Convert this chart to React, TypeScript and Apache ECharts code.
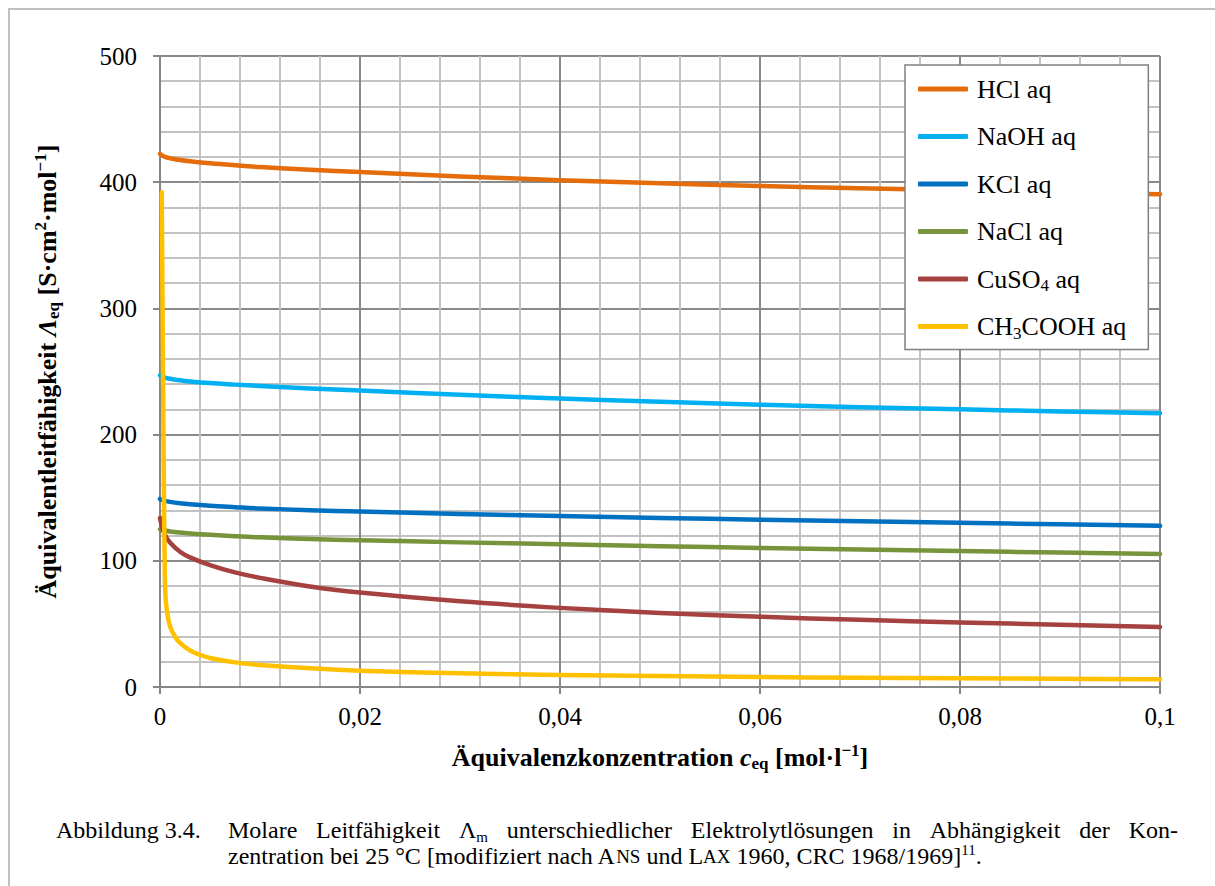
import React, { useEffect, useRef } from 'react';
import * as echarts from 'echarts';

// ---------- data ----------
const concentration = [0, 0.0002, 0.0005, 0.001, 0.002, 0.003, 0.005, 0.0075, 0.01, 0.015, 0.02, 0.03, 0.04, 0.05, 0.06, 0.07, 0.08, 0.09, 0.1];
const hcl = [422.5, 421.2, 420, 419, 417.6, 416.6, 415, 413.4, 412, 409.8, 408, 404.6, 401.6, 399.1, 397, 395.2, 393.6, 392, 390.5];
const naoh = [247, 246.2, 245.2, 244.2, 243, 242.1, 240.8, 239.6, 238.5, 236.6, 234.9, 231.6, 228.6, 226, 223.7, 221.7, 220, 218.4, 217];
const kcl = [149, 148.3, 147.5, 146.7, 145.6, 144.8, 143.6, 142.5, 141.5, 140.1, 139, 137.1, 135.5, 134, 132.6, 131.3, 130.1, 128.9, 127.7];
const nacl = [125, 124.5, 124, 123.3, 122.4, 121.7, 120.6, 119.5, 118.6, 117.3, 116.3, 114.6, 113.1, 111.6, 110.2, 108.9, 107.7, 106.5, 105.4];
const cuso4 = [134, 127, 120.5, 114.5, 107.2, 102.7, 96.6, 90.8, 86.5, 79.7, 74.9, 67.9, 62.7, 58.7, 55.7, 53.2, 51.2, 49.3, 47.6];
const aceticConcentration = [0.00018, 0.0003, 0.0004, 0.00048, 0.00055, 0.0007, 0.001, 0.0015, 0.002, 0.003, 0.004, 0.005, 0.0075, 0.01, 0.015, 0.02, 0.03, 0.04, 0.05, 0.06, 0.07, 0.08, 0.09, 0.1];
const acetic = [392, 250, 150, 92, 72, 60, 48, 40, 35, 29, 25.5, 23, 19.5, 17.5, 14.8, 12.9, 10.9, 9.6, 8.7, 7.9, 7.3, 6.9, 6.5, 6.1];

const seriesNames = ['HCl aq', 'NaOH aq', 'KCl aq', 'NaCl aq', 'CuSO4 aq', 'CH3COOH aq'];
const seriesColors = ['#E46C0A', '#00B0F0', '#0070C0', '#77933C', '#A5413E', '#FFC000'];

const xTickLabels = ['0', '0,02', '0,04', '0,06', '0,08', '0,1'];
const yTickLabels = ['0', '100', '200', '300', '400', '500'];

const captionLabel = 'Abbildung 3.4.';
const captionLine1 = ['Molare', 'Leitfähigkeit', '{n|Λ}{s|m}', 'unterschiedlicher', 'Elektrolytlösungen', 'in', 'Abhängigkeit', 'der', 'Kon-'];
const captionLine2 = '{n|zentration bei 25 °C [modifiziert nach A}{sc|NS}{n| und L}{sc|AX}{n| 1960, CRC 1968/1969]}{sup|11}{n|.}';

// ---------- style ----------
const FONT = '"Liberation Serif", "Times New Roman", serif';
const CAP_SIZE = 24;
const axisGray = '#868686';
const majorGray = '#898989';
const minorGray = '#c2c2c2';

const captionRich: any = {
  n: { fontFamily: FONT, fontSize: CAP_SIZE, lineHeight: 28, color: '#000' },
  s: { fontFamily: FONT, fontSize: 15, lineHeight: 16, verticalAlign: 'bottom', color: '#000' },
  sc: { fontFamily: FONT, fontSize: 19, lineHeight: 28, verticalAlign: 'middle', color: '#000' },
  sup: { fontFamily: FONT, fontSize: 15, lineHeight: 18, verticalAlign: 'top', color: '#000' },
};

const titleRich: any = {
  b: { fontFamily: FONT, fontWeight: 'bold', fontSize: 26, lineHeight: 30, color: '#000' },
  bi: { fontFamily: FONT, fontWeight: 'bold', fontStyle: 'italic', fontSize: 26, lineHeight: 30, color: '#000' },
  sub: { fontFamily: FONT, fontWeight: 'bold', fontSize: 17, lineHeight: 17, verticalAlign: 'bottom', color: '#000' },
  sup: { fontFamily: FONT, fontWeight: 'bold', fontSize: 17, lineHeight: 25, verticalAlign: 'top', color: '#000' },
};

function measureRich(text: string, ctx: CanvasRenderingContext2D): number {
  const re = /\{(\w+)\|([^}]*)\}/g;
  let m: RegExpExecArray | null;
  let w = 0;
  let found = false;
  while ((m = re.exec(text))) {
    found = true;
    const st = captionRich[m[1]] || captionRich.n;
    ctx.font = `${st.fontSize}px ${FONT}`;
    w += ctx.measureText(m[2]).width;
  }
  if (!found) {
    ctx.font = `${CAP_SIZE}px ${FONT}`;
    w = ctx.measureText(text).width;
  }
  return w;
}

function legendFormatter(name: string): string {
  const parts = name.split(/(\d+)/).filter((p) => p.length > 0);
  return parts.map((p) => (/^\d+$/.test(p) ? `{s|${p}}` : `{n|${p}}`)).join('');
}

export default function App() {
  const ref = useRef<HTMLDivElement>(null);

  useEffect(() => {
    if (!ref.current) return;
    const chart = echarts.init(ref.current, undefined, { renderer: 'svg' });

    const canvas = document.createElement('canvas');
    const ctx = canvas.getContext('2d') as CanvasRenderingContext2D;
    const X1 = 228;
    const X2 = 1178;
    const widths = captionLine1.map((w) => measureRich(w, ctx));
    const total = widths.reduce((a, b) => a + b, 0);
    const gap = (X2 - X1 - total) / (captionLine1.length - 1);
    const line1Y = 830;
    const line2Y = 856;
    const captionEls: any[] = [];
    const plainStyle = (text: string) => ({
      text, fontFamily: FONT, fontSize: CAP_SIZE, fill: '#000', verticalAlign: 'middle', align: 'left',
    });
    captionEls.push({ type: 'text', x: 56, y: line1Y, style: plainStyle(captionLabel) });
    let cx = X1;
    captionLine1.forEach((w, i) => {
      const isRich = w.startsWith('{');
      captionEls.push({
        type: 'text', x: cx, y: line1Y,
        style: isRich
          ? { text: w, rich: captionRich, fontFamily: FONT, fontSize: CAP_SIZE, fill: '#000', verticalAlign: 'middle', align: 'left' }
          : plainStyle(w),
      });
      cx += widths[i] + gap;
    });
    captionEls.push({
      type: 'text', x: X1, y: line2Y,
      style: { text: captionLine2, rich: captionRich, fontFamily: FONT, fontSize: CAP_SIZE, fill: '#000', verticalAlign: 'middle', align: 'left' },
    });

    const makeData = (xs: number[], ys: number[]) => xs.map((x, i) => [x, ys[i]]);
    const allData = [
      makeData(concentration, hcl),
      makeData(concentration, naoh),
      makeData(concentration, kcl),
      makeData(concentration, nacl),
      makeData(concentration, cuso4),
      makeData(aceticConcentration, acetic),
    ];

    chart.setOption({
      animation: false,
      backgroundColor: '#fff',
      textStyle: { fontFamily: FONT },
      grid: { left: 160, right: 55, top: 56, bottom: 199, containLabel: false },
      xAxis: {
        type: 'value', min: 0, max: 0.1, interval: 0.02,
        axisLine: { show: true, onZero: false, lineStyle: { color: axisGray, width: 2 } },
        axisTick: { show: true, length: 7, lineStyle: { color: axisGray, width: 2 } },
        axisLabel: {
          formatter: (v: number) => xTickLabels[Math.round(v / 0.02)],
          fontFamily: FONT, fontSize: 25, color: '#000', margin: 17,
        },
        splitLine: { show: true, lineStyle: { color: majorGray, width: 2 } },
        minorTick: { show: false, splitNumber: 5 },
        minorSplitLine: { show: true, lineStyle: { color: minorGray, width: 2 } },
        name: '{b|Äquivalenzkonzentration }{bi|c}{sub|eq}{b| [mol·l}{sup|−1}{b|]}',
        nameLocation: 'middle', nameGap: 55,
        nameTextStyle: { rich: titleRich },
      },
      yAxis: {
        type: 'value', min: 0, max: 500, interval: 100,
        axisLine: { show: true, lineStyle: { color: axisGray, width: 2 } },
        axisTick: { show: true, length: 7, lineStyle: { color: axisGray, width: 2 } },
        axisLabel: {
          formatter: (v: number) => yTickLabels[Math.round(v / 100)],
          fontFamily: FONT, fontSize: 25, color: '#000', margin: 23,
        },
        splitLine: { show: true, lineStyle: { color: majorGray, width: 2 } },
        minorTick: { show: false, splitNumber: 5 },
        minorSplitLine: { show: true, lineStyle: { color: minorGray, width: 2 } },
        name: '{b|Äquivalentleitfähigkeit }{bi|Λ}{sub|eq}{b| [S·cm}{sup|2}{b|·mol}{sup|−1}{b|]}',
        nameLocation: 'middle', nameGap: 98, nameRotate: 90,
        nameTextStyle: { rich: titleRich },
      },
      legend: {
        orient: 'vertical', left: 905, top: 65,
        itemWidth: 50, itemHeight: 5, itemGap: 17.5, icon: 'roundRect',
        padding: [9, 22, 8, 13],
        backgroundColor: '#fff', borderColor: '#808080', borderWidth: 1.5,
        selectedMode: false,
        formatter: legendFormatter,
        textStyle: {
          fontFamily: FONT, fontSize: 26, color: '#000', lineHeight: 30, padding: [0, 0, 0, 4],
          rich: {
            n: { fontFamily: FONT, fontSize: 26, lineHeight: 30, color: '#000' },
            s: { fontFamily: FONT, fontSize: 17, lineHeight: 17, verticalAlign: 'bottom', color: '#000' },
          },
        },
        data: seriesNames,
      },
      series: seriesNames.map((name, i) => ({
        name,
        type: 'line',
        data: allData[i],
        showSymbol: false,
        symbol: 'none',
        smooth: 0.4,
        lineStyle: { color: seriesColors[i], width: 4.5, cap: 'round', join: 'round' },
        itemStyle: { color: seriesColors[i] },
        z: 3,
      })),
      graphic: [
        {
          type: 'polyline', silent: true,
          shape: { points: [[9, 886], [9, 9], [1215, 9]] },
          style: { stroke: '#bfbfbf', lineWidth: 2, fill: 'none' },
        },
        ...captionEls,
      ],
    });

    return () => chart.dispose();
  }, []);

  return <div ref={ref} style={{ position: 'absolute', left: 0, top: 0, width: 1215, height: 886 }} />;
}
